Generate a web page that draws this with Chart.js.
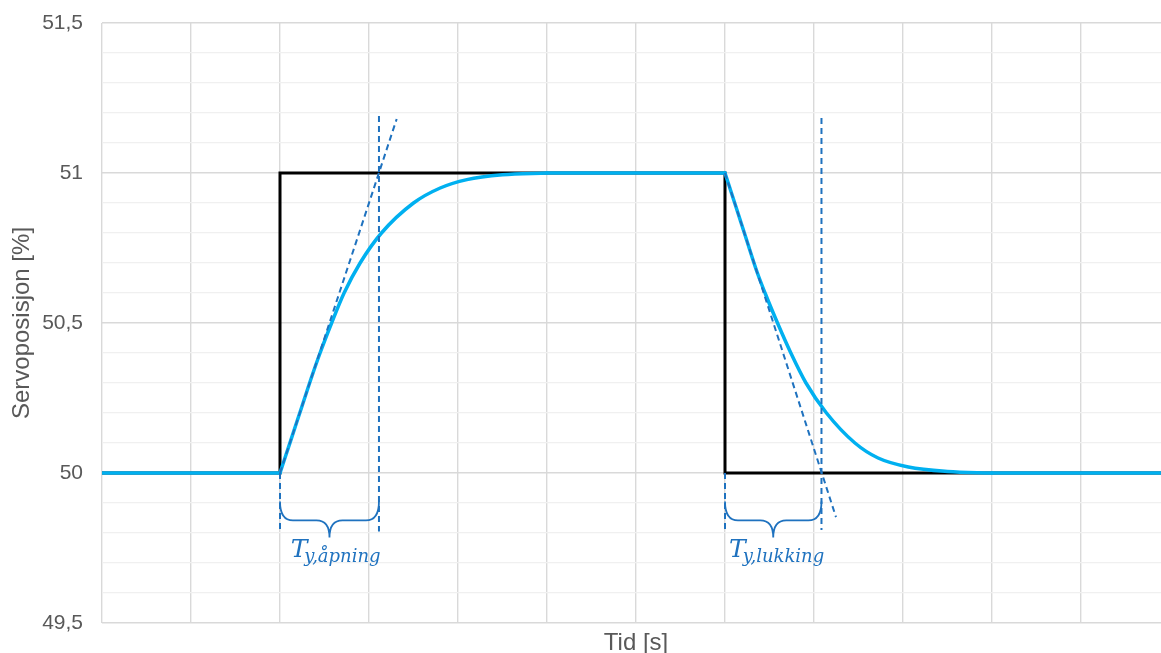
<!DOCTYPE html>
<html>
<head>
<meta charset="utf-8">
<script src="https://cdn.jsdelivr.net/npm/chart.js@4/dist/chart.umd.min.js"></script>
<style>
  html, body { margin: 0; padding: 0; background: #ffffff; overflow: hidden; }
  #wrap { width: 1180px; height: 653px; }
</style>
</head>
<body>
<div id="wrap"><canvas id="c" width="1180" height="653"></canvas></div>
<script>
// ---- data ----
const stepTime  = [0, 2, 2, 7, 7, 12];
const stepValue = [50, 50, 51, 51, 50, 50];

const riseTime  = [2, 2.12, 2.25, 2.36, 2.45, 2.58, 2.72, 2.9, 3.14, 3.5, 3.8, 4.1, 4.5, 5.0];
const riseValue = [50, 50.108, 50.225, 50.324, 50.40, 50.5, 50.6, 50.7, 50.8, 50.9, 50.95, 50.978, 50.994, 51];

const fallTime  = [7, 7.12, 7.25, 7.36, 7.45, 7.59, 7.74, 7.91, 8.14, 8.46, 8.72, 9.06, 9.5, 10];
const fallValue = [51, 50.89, 50.77, 50.67, 50.6, 50.5, 50.4, 50.3, 50.2, 50.1, 50.05, 50.02, 50.005, 50];

// tangent and time-constant helper lines
const openTangentTime   = [2, 3.311];
const openTangentValue  = [50, 51.18];
const closeTangentTime  = [7, 8.247];
const closeTangentValue = [51, 49.853];
const guideTime   = [2, 3.112, 7, 8.084];
const guideTop    = [50, 51.19, 50, 51.183];
const guideBottom = [49.805, 49.805, 49.81, 49.81];

// braces and labels
const braceStart = [2, 7];
const braceEnd   = [3.112, 8.084];
const labelMain  = ['T', 'T'];
const labelSub   = ['y,åpning', 'y,lukking'];
const labelTime  = [2.12, 7.045];

const yTickValues = [49.5, 50, 50.5, 51, 51.5];
const yTickLabels = ['49,5', '50', '50,5', '51', '51,5'];
const xTitle = 'Tid [s]';
const yTitle = 'Servoposisjon [%]';

// ---- build datasets ----
const pts = (xs, ys) => xs.map((x, i) => ({ x: x, y: ys[i] }));
const DASH_BLUE = '#1f72bf';
const SERVO_BLUE = '#00b0f0';

const datasets = [];
const dashStyle = { borderColor: DASH_BLUE, borderWidth: 2, borderDash: [6, 4], pointRadius: 0, tension: 0, fill: false };
datasets.push(Object.assign({ label: 'tangent åpning', data: pts(openTangentTime, openTangentValue), order: 0 }, dashStyle));
datasets.push(Object.assign({ label: 'tangent lukking', data: pts(closeTangentTime, closeTangentValue), order: 0 }, dashStyle));
guideTime.forEach((t, i) => {
  datasets.push(Object.assign({ label: 'guide ' + i, data: [{ x: t, y: guideTop[i] }, { x: t, y: guideBottom[i] }], order: 0 }, dashStyle));
});

const blueStyle = { borderColor: SERVO_BLUE, borderWidth: 3.5, pointRadius: 0, fill: false, borderCapStyle: 'round', borderJoinStyle: 'round' };
datasets.push(Object.assign({ label: 'servo hold 1', data: [{ x: stepTime[0], y: stepValue[0] }, { x: riseTime[0], y: riseValue[0] }], tension: 0, order: 1 }, blueStyle));
datasets.push(Object.assign({ label: 'servo åpning', data: pts(riseTime, riseValue), cubicInterpolationMode: 'monotone', order: 1 }, blueStyle));
datasets.push(Object.assign({ label: 'servo hold 2', data: [{ x: riseTime[riseTime.length - 1], y: riseValue[riseValue.length - 1] }, { x: fallTime[0], y: fallValue[0] }], tension: 0, order: 1 }, blueStyle));
datasets.push(Object.assign({ label: 'servo lukking', data: pts(fallTime, fallValue), cubicInterpolationMode: 'monotone', order: 1 }, blueStyle));
datasets.push(Object.assign({ label: 'servo hold 3', data: [{ x: fallTime[fallTime.length - 1], y: fallValue[fallValue.length - 1] }, { x: stepTime[stepTime.length - 1], y: stepValue[stepValue.length - 1] }], tension: 0, order: 1 }, blueStyle));

datasets.push({ label: 'referanse', data: pts(stepTime, stepValue), borderColor: '#000000', borderWidth: 3, pointRadius: 0, tension: 0, fill: false, borderJoinStyle: 'miter', order: 2 });

// ---- annotation plugin (braces + labels) ----
const annot = {
  id: 'annot',
  afterDatasetsDraw(chart) {
    const ctx = chart.ctx, xs = chart.scales.x, ys = chart.scales.y;
    ctx.save();
    ctx.strokeStyle = DASH_BLUE;
    ctx.fillStyle = DASH_BLUE;
    ctx.lineWidth = 1.8;
    braceStart.forEach((b0, i) => {
      const xl = xs.getPixelForValue(b0), xr = xs.getPixelForValue(braceEnd[i]);
      const xc = (xl + xr) / 2;
      const yTop = ys.getPixelForValue(49.905), yMid = ys.getPixelForValue(49.842), yTip = ys.getPixelForValue(49.785);
      const r = 13;
      ctx.beginPath();
      ctx.moveTo(xl, yTop);
      ctx.quadraticCurveTo(xl, yMid, xl + r, yMid);
      ctx.lineTo(xc - r, yMid);
      ctx.quadraticCurveTo(xc, yMid, xc, yTip);
      ctx.quadraticCurveTo(xc, yMid, xc + r, yMid);
      ctx.lineTo(xr - r, yMid);
      ctx.quadraticCurveTo(xr, yMid, xr, yTop);
      ctx.stroke();

      const tx = xs.getPixelForValue(labelTime[i]);
      const tb = ys.getPixelForValue(49.72);
      ctx.textBaseline = 'alphabetic';
      ctx.textAlign = 'left';
      ctx.font = 'italic 25px "DejaVu Serif"';
      ctx.fillText(labelMain[i], tx, tb);
      const w = ctx.measureText(labelMain[i]).width;
      ctx.font = 'italic 18px "DejaVu Serif"';
      ctx.fillText(labelSub[i], tx + w - 3, ys.getPixelForValue(49.705));
    });
    ctx.restore();
  }
};

const isMajor = v => Math.abs(v * 2 - Math.round(v * 2)) < 1e-6;

new Chart(document.getElementById('c'), {
  type: 'line',
  data: { datasets: datasets },
  plugins: [annot],
  options: {
    responsive: false,
    animation: false,
    devicePixelRatio: 1,
    layout: { padding: { top: 23, right: 10, bottom: 0, left: 0 } },
    plugins: { legend: { display: false }, tooltip: { enabled: false } },
    scales: {
      x: {
        type: 'linear', min: 0, max: 12,
        ticks: { display: false, stepSize: 1 },
        grid: { color: '#d9d9d9', lineWidth: 1.4, drawTicks: false },
        border: { display: false },
        title: { display: true, text: xTitle, color: '#595959', font: { family: '"Liberation Sans", Arial, sans-serif', size: 24, lineHeight: 0.79 }, padding: { top: 0, bottom: 0 } },
        afterFit: s => { s.height = 30; s.paddingLeft = 0; s.paddingRight = 0; }
      },
      y: {
        type: 'linear', min: 49.5, max: 51.5,
        ticks: {
          stepSize: 0.1, autoSkip: false, padding: 19, color: '#595959',
          font: { family: '"Liberation Sans", Arial, sans-serif', size: 21 },
          callback: v => {
            const idx = yTickValues.findIndex(t => Math.abs(t - v) < 1e-6);
            return idx >= 0 ? yTickLabels[idx] : '';
          }
        },
        grid: {
          drawTicks: false,
          color: c => isMajor(c.tick.value) ? '#d9d9d9' : '#f0f0f0',
          lineWidth: c => isMajor(c.tick.value) ? 1.4 : 1.2
        },
        border: { display: false },
        title: { display: true, text: yTitle, color: '#595959', font: { family: '"Liberation Sans", Arial, sans-serif', size: 24, lineHeight: 1.2 }, padding: { top: 8, bottom: 0 } },
        afterFit: s => { s.width = 102; s.paddingTop = 0; s.paddingBottom = 0; }
      }
    }
  }
});
</script>
</body>
</html>
